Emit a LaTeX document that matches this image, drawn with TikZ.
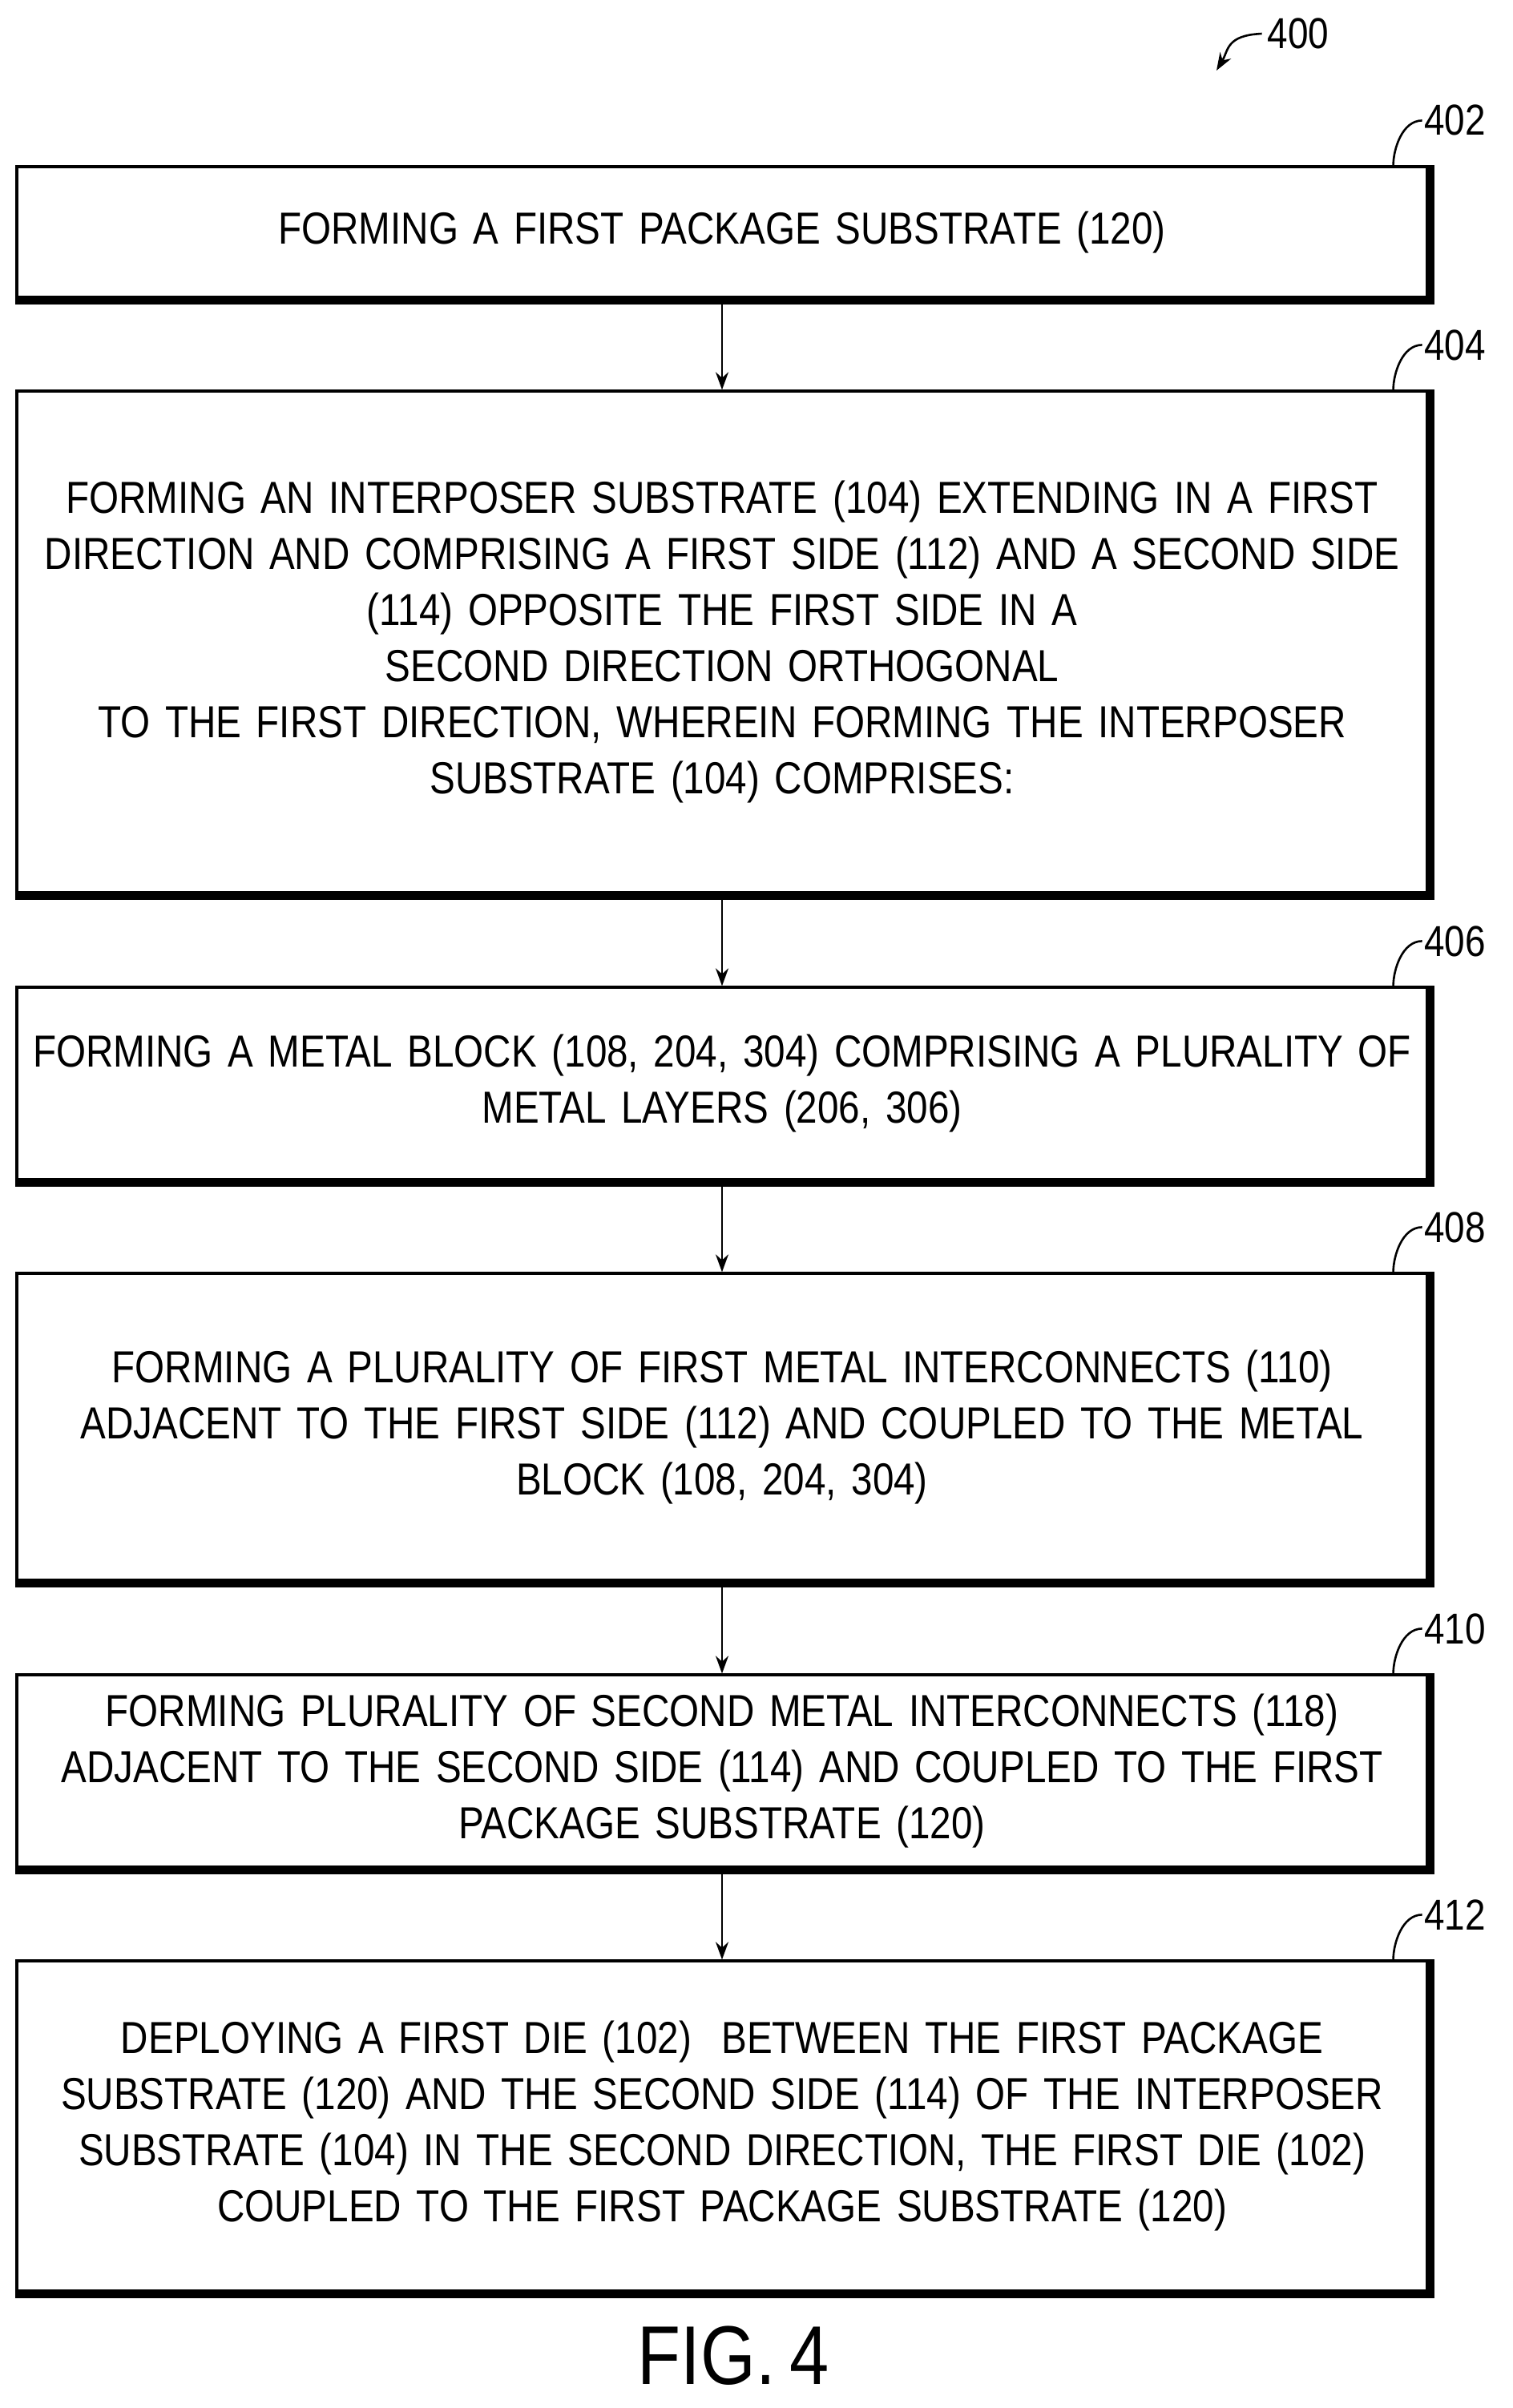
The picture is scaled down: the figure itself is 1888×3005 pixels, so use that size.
\documentclass[tikz,border=0pt]{standalone}
\usepackage{fontspec}
\setmainfont[FakeStretch=0.85]{Liberation Sans}
\usetikzlibrary{arrows.meta}
\begin{document}
\begin{tikzpicture}[x=0.5pt,y=-0.5pt]
	\tikzset{stepbox/.style={draw, line width=1.6pt, minimum width=880pt, text width=870pt, align=center, inner sep=0pt, font=\fontsize{28}{35}\selectfont},
		flow/.style={-{Stealth[length=11pt,width=8pt]}, line width=1.3pt},
		hook/.style={line width=1.3pt}}
	\useasboundingbox (0,0) rectangle (1888,3005);
	
	\node[stepbox, minimum height=81.5pt] (s402) at (901, 289.5) {FORMING A FIRST PACKAGE SUBSTRATE (120)};
	\node[stepbox, minimum height=313pt] (s404) at (901, 801) {FORMING AN INTERPOSER SUBSTRATE (104) EXTENDING IN A FIRST\\DIRECTION AND COMPRISING A FIRST SIDE (112) AND A SECOND SIDE\\(114) OPPOSITE THE FIRST SIDE IN A SECOND DIRECTION ORTHOGONAL\\TO THE FIRST DIRECTION, WHEREIN FORMING THE INTERPOSER\\SUBSTRATE (104) COMPRISES:};
	\node[stepbox, minimum height=120pt] (s406) at (901, 1352) {FORMING A METAL BLOCK (108, 204, 304) COMPRISING A PLURALITY OF\\METAL LAYERS (206, 306)};
	\node[stepbox, minimum height=191.5pt] (s408) at (901, 1780.5) {FORMING A PLURALITY OF FIRST METAL INTERCONNECTS (110)\\ADJACENT TO THE FIRST SIDE (112) AND COUPLED TO THE METAL\\BLOCK (108, 204, 304)};
	\node[stepbox, minimum height=120pt] (s410) at (901, 2210) {FORMING PLURALITY OF SECOND METAL INTERCONNECTS (118)\\ADJACENT TO THE SECOND SIDE (114) AND COUPLED TO THE FIRST\\PACKAGE SUBSTRATE (120)};
	\node[stepbox, minimum height=206pt] (s412) at (901, 2653) {DEPLOYING A FIRST DIE (102)\ \ BETWEEN THE FIRST PACKAGE\\SUBSTRATE (120) AND THE SECOND SIDE (114) OF THE INTERPOSER\\SUBSTRATE (104) IN THE SECOND DIRECTION, THE FIRST DIE (102)\\COUPLED TO THE FIRST PACKAGE SUBSTRATE (120)};
	
	% shadow edges and reference numerals
	\foreach \n in {402,404,406,408,410,412} {
		\draw[line width=3.5pt] ([xshift=2pt]s\n.north east) -- ([xshift=2pt,yshift=-2pt]s\n.south east) -- ([yshift=-2pt]s\n.south west);
		\draw[hook] ([xshift=-22pt]s\n.north east) .. controls +(0,-20) and +(-25,0) .. ([xshift=-4pt,yshift=28pt]s\n.north east) coordinate (c\n);
		\node[anchor=west, inner sep=1pt, font=\fontsize{27}{30}\selectfont] (l\n) at (c\n) {\n};
	}
	
	\draw[flow] (s402) -- (s404);
	\draw[flow] (s404) -- (s406);
	\draw[flow] (s406) -- (s408);
	\draw[flow] (s408) -- (s410);
	\draw[flow] (s410) -- (s412);
	
	\node[font=\fontsize{27}{30}\selectfont] (l400) at (1620, 42) {400};
	\coordinate (a400) at (1518, 88);
	\draw[flow] (l400.west) .. controls +(-45,2) and +(15,-25) .. (a400);
	
	\node[font=\fontsize{52}{60}\selectfont] (fig) at (915, 2940) {FIG.\,4};
\end{tikzpicture}
\end{document}
